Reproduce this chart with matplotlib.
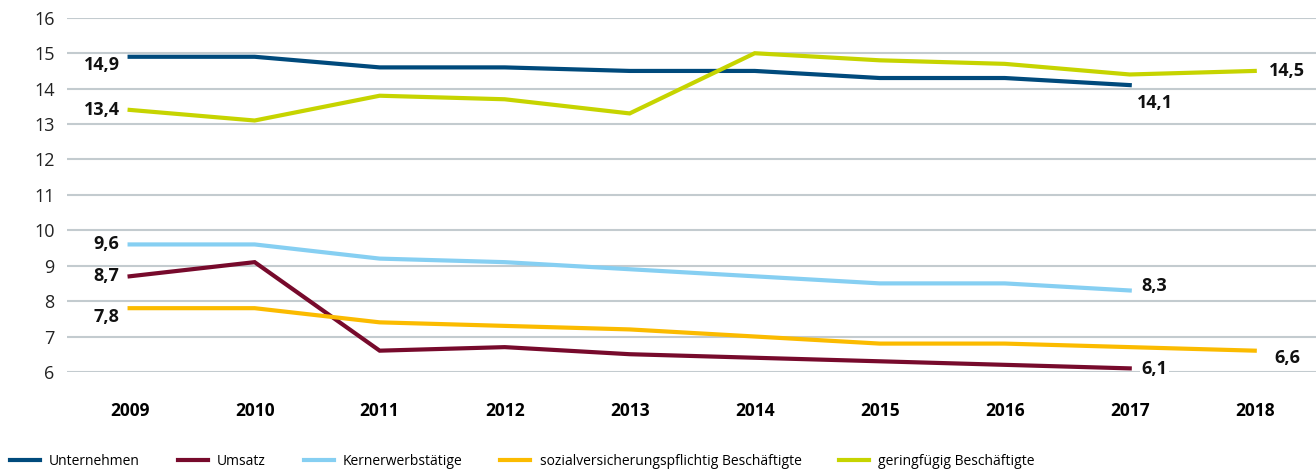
import numpy as np
import matplotlib
matplotlib.use("Agg")
import matplotlib.pyplot as plt

plt.rcParams['font.family'] = ['Open Sans', 'DejaVu Sans']

years = ['2009', '2010', '2011', '2012', '2013', '2014', '2015', '2016', '2017', '2018']
unternehmen = [14.9, 14.9, 14.6, 14.6, 14.5, 14.5, 14.3, 14.3, 14.1, np.nan]
umsatz = [8.7, 9.1, 6.6, 6.7, 6.5, 6.4, 6.3, 6.2, 6.1, np.nan]
kernerwerb = [9.6, 9.6, 9.2, 9.1, 8.9, 8.7, 8.5, 8.5, 8.3, np.nan]
sozialvers = [7.8, 7.8, 7.4, 7.3, 7.2, 7.0, 6.8, 6.8, 6.7, 6.6]
geringfuegig = [13.4, 13.1, 13.8, 13.7, 13.3, 15.0, 14.8, 14.7, 14.4, 14.5]

series = [
    ('Unternehmen', unternehmen, '#004a7c'),
    ('Umsatz', umsatz, '#770a2c'),
    ('Kernerwerbstätige', kernerwerb, '#86cff2'),
    ('sozialversicherungspflichtig Beschäftigte', sozialvers, '#fbbb00'),
    ('geringfügig Beschäftigte', geringfuegig, '#c6d400'),
]

fig = plt.figure(figsize=(13.16, 4.69), dpi=100)
ax = fig.add_axes([0.051, 0.207, 0.949, 0.755])

x = np.arange(len(years))
for name, vals, col in series:
    ax.plot(x, vals, color=col, lw=3, label=name, solid_joinstyle='miter', zorder=3)

ax.set_xlim(-0.5, 9.49)
ax.set_ylim(6, 16)
ax.set_yticks(range(6, 17))
ax.set_xticks(x)
ax.set_xticklabels(years, fontweight='bold', fontsize=12.5)
ax.tick_params(axis='x', length=0, pad=22)
ax.tick_params(axis='y', length=0, pad=9, labelsize=13, labelcolor='#222222')
ax.grid(axis='y', color='#c3cbcf', lw=1.5, zorder=1)
for s in ax.spines.values():
    s.set_visible(False)

lab = dict(fontsize=13, fontweight='bold', color='#111111', zorder=4)
# start values
ax.text(-0.08, unternehmen[0] - 0.23, '14,9', ha='right', va='center', **lab)
ax.text(-0.08, geringfuegig[0], '13,4', ha='right', va='center', **lab)
ax.text(-0.08, kernerwerb[0], '9,6', ha='right', va='center', **lab)
ax.text(-0.08, umsatz[0], '8,7', ha='right', va='center', **lab)
ax.text(-0.08, sozialvers[0] - 0.25, '7,8', ha='right', va='center', **lab)
# end values
ax.text(8.2, unternehmen[8] - 0.5, '14,1', ha='center', va='center', **lab)
ax.text(8.2, kernerwerb[8] + 0.13, '8,3', ha='center', va='center', **lab)
ax.text(8.2, umsatz[8] - 0.02, '6,1', ha='center', va='center',
        bbox=dict(facecolor='white', edgecolor='none', pad=1), **lab)
ax.text(9.26, geringfuegig[9], '14,5', ha='center', va='center', **lab)
ax.text(9.26, sozialvers[9] - 0.2, '6,6', ha='center', va='center', **lab)

fig.legend(loc='lower left', bbox_to_anchor=(0.0, -0.02), ncol=5, frameon=False,
           fontsize=10, handlelength=2.16, handletextpad=0.65, columnspacing=2.74,
           borderaxespad=0.3)

fig.savefig('out.png', dpi=100)
